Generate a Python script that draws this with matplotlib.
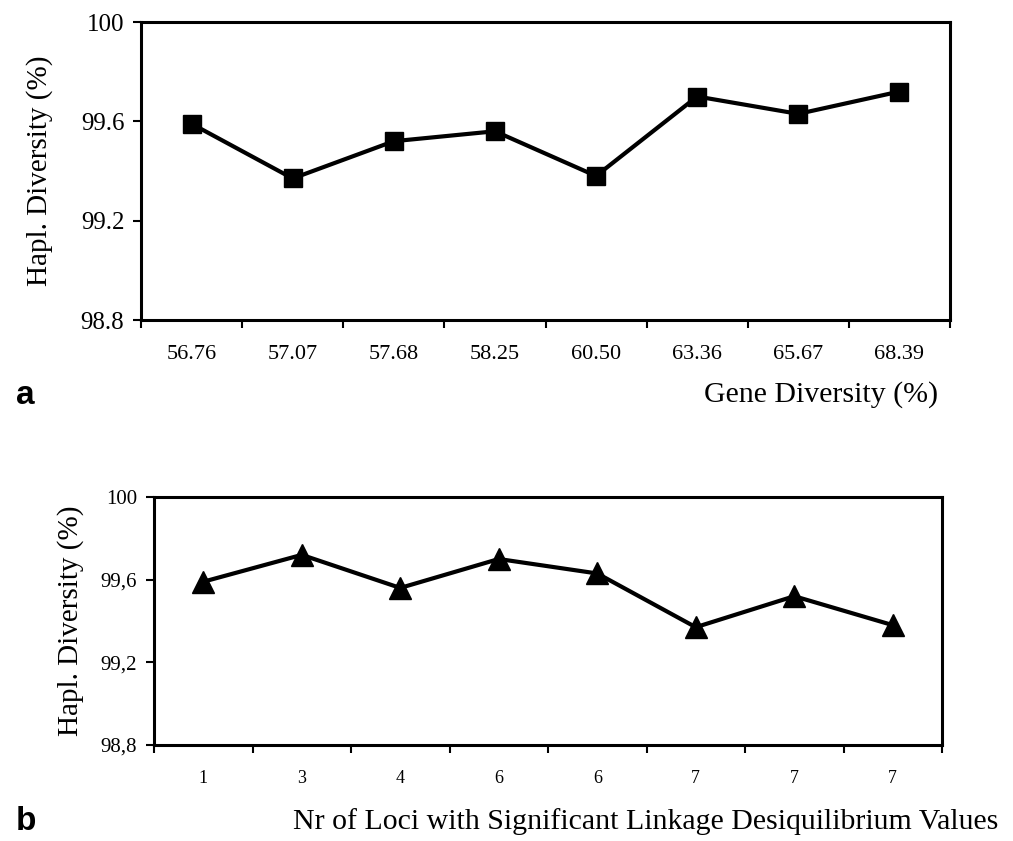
import matplotlib.pyplot as plt
import numpy as np

# panel a
gene_div = ["56.76", "57.07", "57.68", "58.25", "60.50", "63.36", "65.67", "68.39"]
hapl_a = [99.59, 99.37, 99.52, 99.56, 99.38, 99.70, 99.63, 99.72]

# panel b
loci = ["1", "3", "4", "6", "6", "7", "7", "7"]
hapl_b = [99.59, 99.72, 99.56, 99.70, 99.63, 99.37, 99.52, 99.38]

yticks = [98.8, 99.2, 99.6, 100]
ylab_a = ["98.8", "99.2", "99.6", "100"]
ylab_b = ["98,8", "99,2", "99,6", "100"]

plt.rcParams['font.family'] = ['Liberation Serif', 'DejaVu Serif']

W, H = 1013, 841
fig = plt.figure(figsize=(W / 100, H / 100), dpi=100)


def box(l, t, r, b):
    return [l / W, (H - b) / H, (r - l) / W, (b - t) / H]


def panel(ax, cats, vals, ylabs, marker, ms, tsize, ysize):
    x = np.arange(len(cats))
    ax.plot(x, vals, color='black', lw=3, marker=marker, ms=ms,
            mfc='black', mec='black')
    ax.set_xlim(-0.5, len(cats) - 0.5)
    ax.set_ylim(98.8, 100)
    ax.set_xticks(x)
    ax.set_xticklabels(cats, fontsize=tsize)
    ax.set_xticks(np.arange(len(cats) + 1) - 0.5, minor=True)
    ax.tick_params(axis='x', which='major', length=0, pad=18)
    ax.tick_params(axis='x', which='minor', length=6, width=1.5, direction='out')
    ax.set_yticks(yticks)
    ax.set_yticklabels(ylabs, fontsize=ysize)
    ax.tick_params(axis='y', length=6, width=1.5, direction='out', pad=6)
    for s in ax.spines.values():
        s.set_linewidth(2.2)


ax1 = fig.add_axes(box(141, 22, 950, 320))
panel(ax1, gene_div, hapl_a, ylab_a, 's', 13, 16, 18)
ax1.set_ylabel("Hapl. Diversity (%)", fontsize=21, labelpad=20)
fig.text(938 / W, 1 - 395 / H, "Gene Diversity (%)", fontsize=21.5,
         ha='right', va='center')
fig.text(16 / W, 1 - 396 / H, "a", fontsize=24, fontweight='bold',
         family='Liberation Sans', ha='left', va='center')

ax2 = fig.add_axes(box(154, 497, 942, 745))
panel(ax2, loci, hapl_b, ylab_b, '^', 16, 13, 15)
ax2.set_ylabel("Hapl. Diversity (%)", fontsize=21, labelpad=12)
fig.text(998 / W, 1 - 822 / H,
         "Nr of Loci with Significant Linkage Desiquilibrium Values",
         fontsize=21.5, ha='right', va='center')
fig.text(16 / W, 1 - 822 / H, "b", fontsize=24, fontweight='bold',
         family='Liberation Sans', ha='left', va='center')

fig.savefig("out.png", dpi=100)
